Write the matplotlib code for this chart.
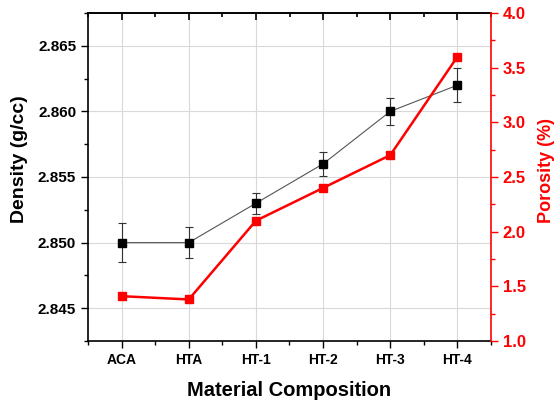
import numpy as np
import matplotlib
matplotlib.use("Agg")
import matplotlib.pyplot as plt
from matplotlib.ticker import MultipleLocator, FormatStrFormatter, NullFormatter

plt.rcParams["font.family"] = ["Liberation Sans", "DejaVu Sans"]
plt.rcParams["font.weight"] = "bold"

categories = ["ACA", "HTA", "HT-1", "HT-2", "HT-3", "HT-4"]
density = [2.850, 2.850, 2.853, 2.856, 2.860, 2.862]
density_err = [0.0015, 0.0012, 0.0008, 0.0009, 0.0010, 0.0013]
porosity = [1.41, 1.38, 2.10, 2.40, 2.70, 3.60]

x = np.arange(len(categories))

fig = plt.figure(figsize=(5.57, 4.03), dpi=100)
ax = fig.add_axes([88 / 557, 1 - 341 / 403, (491 - 88) / 557, (341 - 13) / 403])

ax.grid(True, color="#d9d9d9", linewidth=0.8, zorder=0)
ax.errorbar(x, density, yerr=density_err, color="#555555", linewidth=0.8,
            marker="s", markersize=6, markerfacecolor="black",
            markeredgecolor="black", ecolor="#333333", elinewidth=0.8,
            capsize=3, capthick=0.8, zorder=3)
ax.set_xlim(-0.5, 5.5)
ax.set_ylim(2.8425, 2.8675)
ax.set_xticks(x)
ax.set_xticklabels(categories)
ax.xaxis.set_minor_locator(MultipleLocator(0.5))
ax.yaxis.set_major_locator(MultipleLocator(0.005))
ax.yaxis.set_minor_locator(MultipleLocator(0.0025))
ax.yaxis.set_major_formatter(FormatStrFormatter("%.3f"))
ax.tick_params(axis="x", which="major", labelsize=10, length=5, width=1)
ax.tick_params(axis="y", which="major", labelsize=11, length=5, width=1)
ax.tick_params(axis="both", which="minor", length=3, width=1)
ax.set_xlabel("Material Composition", fontsize=14.5, fontweight="bold", labelpad=10)
ax.set_ylabel("Density (g/cc)", fontsize=14, fontweight="bold")
ax.yaxis.set_label_coords(-0.149, 0.555)
for s in ["left", "bottom", "top"]:
    ax.spines[s].set_linewidth(1.2)
ax.spines["right"].set_visible(False)

# top axis: ticks pointing inward, no labels
top = ax.twiny()
top.set_xlim(ax.get_xlim())
top.set_xticks(x)
top.xaxis.set_minor_locator(MultipleLocator(0.5))
top.xaxis.set_major_formatter(NullFormatter())
top.tick_params(axis="x", which="major", direction="in", length=5, width=1.2,
                color="black")
top.tick_params(axis="x", which="minor", direction="in", length=3, width=1.2,
                color="black")
for s in ["left", "bottom", "right"]:
    top.spines[s].set_visible(False)
top.spines["top"].set_linewidth(1.2)

ax2 = ax.twinx()
ax2.plot(x, porosity, color="#ff0000", linewidth=1.8, marker="s", markersize=6,
         zorder=4)
ax2.set_ylim(1.0, 4.0)
ax2.yaxis.set_major_locator(MultipleLocator(0.5))
ax2.yaxis.set_minor_locator(MultipleLocator(0.25))
ax2.tick_params(axis="y", which="major", colors="#ff0000", labelsize=12,
                length=5, width=1)
ax2.tick_params(axis="y", which="minor", colors="#ff0000", length=3, width=1)
ax2.spines["right"].set_color("#ff0000")
ax2.spines["right"].set_linewidth(1.2)
for s in ["left", "bottom", "top"]:
    ax2.spines[s].set_visible(False)
ax2.set_ylabel("Porosity (%)", fontsize=13, fontweight="bold", color="#ff0000")
ax2.yaxis.set_label_coords(1.117, 0.52)

fig.savefig("out.png", dpi=100)
